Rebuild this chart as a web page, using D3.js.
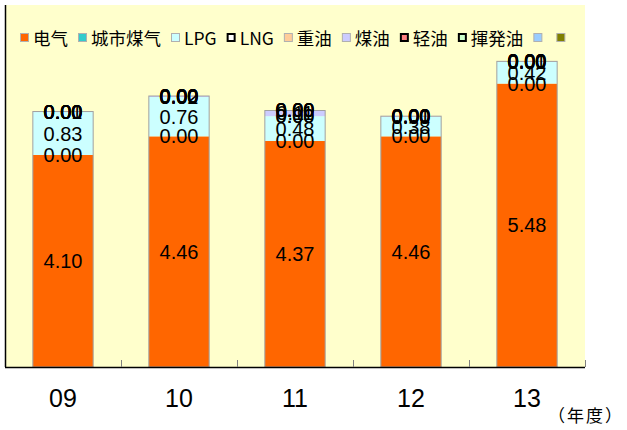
<!DOCTYPE html>
<html>
<head>
<meta charset="utf-8">
<script src="https://cdn.jsdelivr.net/npm/d3@7"></script>
<style>
  body { margin: 0; background: #fff; }
  svg { display: block; }
</style>
</head>
<body>
<div id="chart"></div>
<script>
// chart data
const years = ["09", "10", "11", "12", "13"];
const seriesNames = ["电气", "城市煤气", "LPG", "LNG", "重油", "煤油", "轻油", "揮発油", "", ""];
const electricity = [4.10, 4.46, 4.37, 4.46, 5.48];
const cityGas = [0, 0, 0, 0, 0];
const lpg = [0.83, 0.76, 0.48, 0.38, 0.42];
const lng = [0, 0, 0, 0, 0];
const heavyOil = [0, 0, 0, 0, 0];
const kerosene = [0.01, 0.02, 0.11, 0.01, 0.01];
const lightOil = [0, 0, 0, 0, 0];
const gasoline = [0, 0, 0, 0, 0];
const otherA = [0, 0, 0, 0, 0];
const otherB = [0, 0, 0, 0, 0];
const unitLabel = "（年度）";

const seriesValues = [electricity, cityGas, lpg, lng, heavyOil, kerosene, lightOil, gasoline, otherA, otherB];
const colors = ["#FF6600", "#33CCCC", "#CCFFFF", "#FFFFFF", "#FFCC99", "#CCCCFF", "#FF8080", "#CCFFCC", "#99CCFF", "#808000"];
const boldBorder = [false, false, false, true, false, false, true, true, false, false];

const svgWidth = 627, svgHeight = 430;
const plot = { left: 5, right: 585, top: 5, bottom: 367 };

const svg = d3.select("#chart").append("svg")
  .attr("width", svgWidth)
  .attr("height", svgHeight);

// build rows for the stack
const keys = seriesValues.map((d, i) => "s" + i);
const rows = years.map((y, j) => {
  const row = { year: y };
  seriesValues.forEach((vals, i) => { row["s" + i] = vals[j]; });
  return row;
});
const stacked = d3.stack().keys(keys)(rows);

const x = d3.scaleBand()
  .domain(years)
  .range([plot.left, plot.right])
  .paddingInner(0.48)
  .paddingOuter(0.24);

const y = d3.scaleLinear()
  .domain([0, 7])
  .range([plot.bottom, plot.top]);

// plot background
svg.append("rect")
  .attr("x", plot.left)
  .attr("y", plot.top)
  .attr("width", plot.right - plot.left)
  .attr("height", plot.bottom - plot.top)
  .attr("fill", "#FFFFCC");

// stacked segments
const layers = svg.append("g").selectAll("g")
  .data(stacked)
  .enter().append("g")
  .attr("fill", (d, i) => colors[i]);

layers.selectAll("rect")
  .data(d => d)
  .enter().append("rect")
  .attr("x", d => x(d.data.year))
  .attr("y", d => y(d[1]))
  .attr("width", x.bandwidth())
  .attr("height", d => y(d[0]) - y(d[1]));

// outline around each bar
const totals = rows.map(r => d3.sum(keys, k => r[k]));
svg.append("g").selectAll("rect")
  .data(years)
  .enter().append("rect")
  .attr("x", d => x(d))
  .attr("y", (d, j) => y(totals[j]))
  .attr("width", x.bandwidth())
  .attr("height", (d, j) => y(0) - y(totals[j]))
  .attr("fill", "none")
  .attr("stroke", "#A0A0A0")
  .attr("stroke-width", 1);

// value labels
const fmt = d3.format(".2f");
stacked.forEach((layer, i) => {
  svg.append("g").selectAll("text")
    .data(layer)
    .enter().append("text")
    .attr("x", d => x(d.data.year) + x.bandwidth() / 2)
    .attr("y", d => y((d[0] + d[1]) / 2))
    .attr("text-anchor", "middle")
    .attr("dominant-baseline", "central")
    .attr("font-family", "'Liberation Sans', Arial, sans-serif")
    .attr("font-size", "20px")
    .attr("fill", "#000")
    .text(d => fmt(d[1] - d[0]));
});

// axes
svg.append("line")
  .attr("x1", plot.left + 0.5).attr("x2", plot.left + 0.5)
  .attr("y1", plot.top).attr("y2", plot.bottom)
  .attr("stroke", "#000").attr("stroke-width", 1.5);

svg.append("line")
  .attr("x1", plot.left).attr("x2", plot.right)
  .attr("y1", plot.bottom + 0.5).attr("y2", plot.bottom + 0.5)
  .attr("stroke", "#000").attr("stroke-width", 1.5);

// category boundary ticks pointing up
const step = x.step();
svg.append("g").selectAll("line")
  .data(years)
  .enter().append("line")
  .attr("x1", (d, j) => plot.left + step * (j + 1) + 0.5)
  .attr("x2", (d, j) => plot.left + step * (j + 1) + 0.5)
  .attr("y1", plot.bottom - 7)
  .attr("y2", plot.bottom)
  .attr("stroke", "#808080");

svg.append("g").selectAll("text")
  .data(years)
  .enter().append("text")
  .attr("x", d => x(d) + x.bandwidth() / 2)
  .attr("y", 398)
  .attr("text-anchor", "middle")
  .attr("dominant-baseline", "central")
  .attr("font-family", "'Liberation Sans', Arial, sans-serif")
  .attr("font-size", "25px")
  .attr("fill", "#000")
  .text(d => d);

svg.append("text")
  .attr("x", 624)
  .attr("y", 414)
  .attr("text-anchor", "end")
  .attr("dominant-baseline", "central")
  .attr("font-family", "'Noto Sans CJK JP', sans-serif")
  .attr("font-size", "17px")
  .attr("letter-spacing", "2px")
  .attr("fill", "#000")
  .text(unitLabel);

// legend
const legend = svg.append("g");
let cursor = 20;
seriesNames.forEach((name, i) => {
  legend.append("rect")
    .attr("x", cursor + (boldBorder[i] ? 1 : 0.5))
    .attr("y", 33 + (boldBorder[i] ? 1 : 0.5))
    .attr("width", boldBorder[i] ? 7 : 8)
    .attr("height", boldBorder[i] ? 7 : 8)
    .attr("fill", colors[i])
    .attr("stroke", boldBorder[i] ? "#000" : "#B0B0B0")
    .attr("stroke-width", boldBorder[i] ? 2 : 1);
  const t = legend.append("text")
    .attr("x", cursor + 13)
    .attr("y", 37)
    .attr("dominant-baseline", "central")
    .attr("font-family", "'Noto Sans CJK SC', sans-serif")
    .attr("font-size", "17.5px")
    .attr("fill", "#000")
    .text(name);
  cursor += 13 + t.node().getComputedTextLength() + 10;
});
</script>
</body>
</html>
